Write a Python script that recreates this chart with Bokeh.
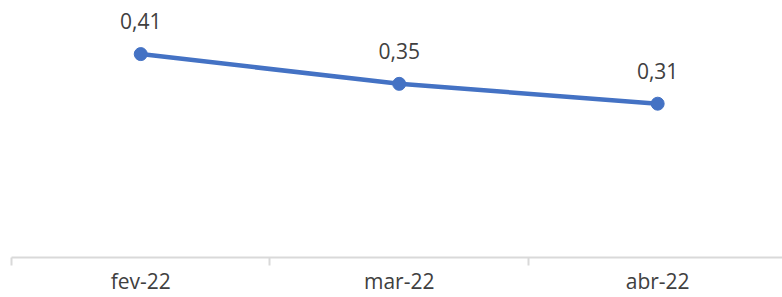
from bokeh.plotting import figure
from bokeh.models import Range1d, FixedTicker, ColumnDataSource, LabelSet
from bokeh.core.properties import value
from bokeh.embed import file_html
from bokeh.resources import INLINE

categories = ["fev-22", "mar-22", "abr-22"]
values = [0.41, 0.35, 0.31]
value_labels = ["0,41", "0,35", "0,31"]

xs = [i + 0.5 for i in range(len(categories))]
src = ColumnDataSource(dict(x=xs, y=values, lbl=value_labels))

p = figure(width=782, height=297, output_backend="svg", toolbar_location=None,
           x_range=Range1d(0, 2.983), y_range=Range1d(0, 0.518),
           y_axis_location=None, min_border_left=11, min_border_right=0,
           min_border_top=0, min_border_bottom=38)
p.outline_line_color = None
p.xgrid.visible = False
p.ygrid.visible = False
p.background_fill_color = "white"
p.border_fill_color = "white"

p.line("x", "y", source=src, line_color="#4472C4", line_width=4.5)
p.scatter("x", "y", source=src, size=13, fill_color="#4472C4", line_color="#4472C4")

labels = LabelSet(x="x", y="y", text="lbl", source=src, x_offset=0, y_offset=25,
                  text_align="center", text_baseline="alphabetic",
                  text_font=value("Open Sans"), text_font_size="21px", text_color="#404040")
p.add_layout(labels)

ax = p.xaxis[0]
ax.ticker = FixedTicker(ticks=xs, minor_ticks=[0, 1, 2, 3])
ax.major_label_overrides = {x: c for x, c in zip(xs, categories)}
ax.major_tick_line_color = None
ax.major_tick_out = 0
ax.major_tick_in = 0
ax.minor_tick_line_color = "#D9D9D9"
ax.minor_tick_line_width = 2
ax.minor_tick_out = 0
ax.minor_tick_in = -8
ax.axis_line_color = "#D9D9D9"
ax.axis_line_width = 2
ax.major_label_standoff = 9
ax.major_label_text_font = "Open Sans"
ax.major_label_text_font_size = "21px"
ax.major_label_text_color = "#404040"

open("out.html", "w").write(file_html(p, INLINE))
